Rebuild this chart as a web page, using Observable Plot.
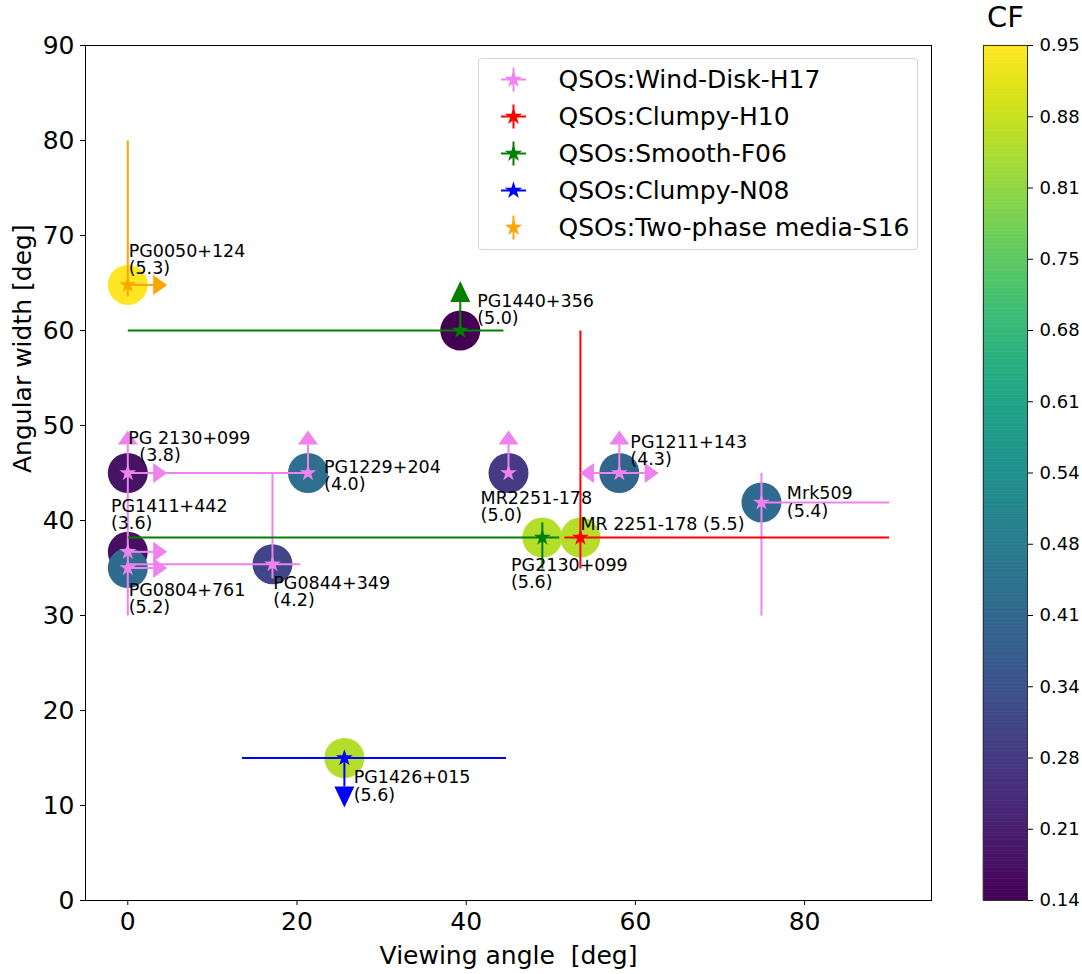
<!DOCTYPE html>
<html><head><meta charset="utf-8">
<script src="https://cdn.jsdelivr.net/npm/d3@7"></script>
<script src="https://cdn.jsdelivr.net/npm/@observablehq/plot@0.6"></script>
<style>
body{margin:0;background:#fff;}
#wrap{position:relative;width:1082px;height:974px;font-family:"DejaVu Sans",sans-serif;}
#wrap svg{position:absolute;overflow:visible;}
#wrap svg text{white-space:pre;}
</style></head><body><div id="wrap"></div>
<script>
// ---------------- data ----------------
const seriesNames = ["Wind-Disk-H17", "Clumpy-H10", "Smooth-F06", "Clumpy-N08", "Two-phase media-S16"];
const seriesPrefix = "QSOs:";

const objNames = ["PG0050+124", "PG1440+356", "PG2130+099", "MR 2251-178", "PG1426+015",
  "PG 2130+099", "PG1411+442", "PG0804+761", "PG0844+349", "PG1229+204", "MR2251-178", "PG1211+143", "Mrk509"];
const objSeries = ["Two-phase media-S16", "Smooth-F06", "Smooth-F06", "Clumpy-H10", "Clumpy-N08",
  "Wind-Disk-H17", "Wind-Disk-H17", "Wind-Disk-H17", "Wind-Disk-H17", "Wind-Disk-H17", "Wind-Disk-H17", "Wind-Disk-H17", "Wind-Disk-H17"];
const objLabels = ["PG0050+124\n(5.3)", "PG1440+356\n(5.0)", "PG2130+099\n(5.6)", "MR 2251-178 (5.5)", "PG1426+015\n(5.6)",
  "PG 2130+099\n  (3.8)", "PG1411+442\n(3.6)", "PG0804+761\n(5.2)", "PG0844+349\n(4.2)", "PG1229+204\n(4.0)", "MR2251-178\n(5.0)", "PG1211+143\n(4.3)", "Mrk509\n(5.4)"];
const viewAngle = [0, 39.3, 49.0, 53.5, 25.6, 0, 0, 0, 17.1, 21.3, 45.0, 58.1, 74.9];
const angWidth = [64.8, 60, 38.2, 38.2, 15.0, 45, 36.7, 35.0, 35.4, 45, 45, 45, 41.9];
const coveringFactor = [0.95, 0.14, 0.86, 0.86, 0.86, 0.18, 0.17, 0.42, 0.31, 0.43, 0.28, 0.40, 0.42];
const xErrLo = [0, 39.3, 49.0, 1.9, 12.1, 0, 0, 0, 17.1, 21.3, 0, 0, 0];
const xErrHi = [0, 5.1, 2.0, 36.5, 19.1, 0, 0, 0, 3.3, 0, 0, 0, 15.1];
const yErrLo = [1.2, 0, 3.25, 3.25, 0, 0, 0, 5.0, 1.5, 0, 0, 0, 11.9];
const yErrHi = [15.2, 0, 1.6, 21.8, 0, 0, 0, 10.0, 9.6, 0, 0, 0, 3.1];
const limUp    = [0, 1, 0, 0, 0, 1, 0, 0, 0, 1, 1, 1, 0];
const limDown  = [0, 0, 0, 0, 1, 0, 0, 0, 0, 0, 0, 0, 0];
const limLeft  = [0, 0, 0, 0, 0, 0, 0, 0, 0, 0, 0, 1, 0];
const limRight = [1, 0, 0, 0, 0, 1, 1, 1, 0, 0, 0, 1, 0];
const limitArrowLength = 3;
const labelX = [0.1, 41.3, 45.3, 53.5, 26.7, 0.05, -2.0, 0.1, 17.2, 23.2, 41.7, 59.4, 77.9];
const labelY = [69.05, 63.8, 36.0, 40.3, 13.6, 49.3, 42.2, 33.3, 34.05, 46.25, 43.05, 48.9, 43.5];

const cfDomain = [0.14, 0.95];
const cfTickLabels = ["0.14", "0.21", "0.28", "0.34", "0.41", "0.48", "0.54", "0.61", "0.68", "0.75", "0.81", "0.88", "0.95"];
const xTicks = [0, 20, 40, 60, 80];
const yTicks = [0, 10, 20, 30, 40, 50, 60, 70, 80, 90];
const xDomain = [-5, 95];
const yDomain = [0, 90];
const xLabel = "Viewing angle  [deg]";
const yLabel = "Angular width [deg]";
const cfTitle = "CF";

// ---------------- styles ----------------
const seriesColors = {"Wind-Disk-H17": "violet", "Clumpy-H10": "red", "Smooth-F06": "green", "Clumpy-N08": "blue", "Two-phase media-S16": "orange"};
const seriesArrow = {"Wind-Disk-H17": "caret", "Clumpy-H10": "caret", "Smooth-F06": "tri", "Clumpy-N08": "tri", "Two-phase media-S16": "caret"};
const FONT = "DejaVu Sans";

const caret = {draw(ctx, size) { const r = Math.sqrt(size / Math.PI); ctx.moveTo(-r, 0); ctx.lineTo(r, 0); ctx.lineTo(0, -1.4 * r); ctx.closePath(); }};
const tri = {draw(ctx, size) { const r = Math.sqrt(size / Math.PI); ctx.moveTo(-r, 0); ctx.lineTo(r, 0); ctx.lineTo(0, -2.1 * r); ctx.closePath(); }};
const hline = {draw(ctx, size) { const r = Math.sqrt(size / Math.PI); ctx.moveTo(-r, 0); ctx.lineTo(r, 0); }};
const vline = {draw(ctx, size) { const r = Math.sqrt(size / Math.PI); ctx.moveTo(0, -r); ctx.lineTo(0, r); }};

// ---------------- build tables ----------------
const objs = objNames.map((name, i) => ({name, series: objSeries[i], x: viewAngle[i], y: angWidth[i], cf: coveringFactor[i], label: objLabels[i], lx: labelX[i], ly: labelY[i]}));
const segs = [], arrows = [];
objs.forEach((o, i) => {
  const s = o.series, L = limitArrowLength;
  if (xErrLo[i] || xErrHi[i]) segs.push({series: s, x1: o.x - xErrLo[i], x2: o.x + xErrHi[i], y1: o.y, y2: o.y});
  if (yErrLo[i] || yErrHi[i]) segs.push({series: s, x1: o.x, x2: o.x, y1: o.y - yErrLo[i], y2: o.y + yErrHi[i]});
  if (limUp[i])    { segs.push({series: s, x1: o.x, x2: o.x, y1: o.y, y2: o.y + L}); arrows.push({series: s, x: o.x, y: o.y + L, rot: 0}); }
  if (limDown[i])  { segs.push({series: s, x1: o.x, x2: o.x, y1: o.y, y2: o.y - L}); arrows.push({series: s, x: o.x, y: o.y - L, rot: 180}); }
  if (limRight[i]) { segs.push({series: s, x1: o.x, x2: o.x + L, y1: o.y, y2: o.y}); arrows.push({series: s, x: o.x + L, y: o.y, rot: 90}); }
  if (limLeft[i])  { segs.push({series: s, x1: o.x, x2: o.x - L, y1: o.y, y2: o.y}); arrows.push({series: s, x: o.x - L, y: o.y, rot: 270}); }
});

const seriesMarks = seriesNames.flatMap(s => [
  Plot.link(segs.filter(d => d.series === s), {x1: "x1", y1: "y1", x2: "x2", y2: "y2", stroke: seriesColors[s], strokeWidth: 2})
]);
const arrowMarks = seriesNames.map(s =>
  Plot.dot(arrows.filter(d => d.series === s), {x: "x", y: "y", rotate: "rot", r: 10, symbol: seriesArrow[s] === "tri" ? tri : caret, fill: seriesColors[s], stroke: "none"})
);
const starMarks = seriesNames.map(s =>
  Plot.dot(objs.filter(d => d.series === s), {x: "x", y: "y", r: 5.3, symbol: "star", fill: seriesColors[s], stroke: "none"})
);

const wrap = document.getElementById("wrap");

// ---------------- main chart ----------------
const main = Plot.plot({
  width: 1082, height: 974,
  marginLeft: 85, marginRight: 151, marginTop: 45, marginBottom: 74,
  style: {fontFamily: FONT, fontSize: "25px", color: "black", background: "transparent"},
  x: {domain: xDomain},
  y: {domain: yDomain},
  color: {type: "linear", scheme: "viridis", domain: cfDomain},
  marks: [
    Plot.dot(objs, {x: "x", y: "y", r: 20, fill: "cf", stroke: "none"}),
    ...seriesMarks,
    ...arrowMarks,
    ...starMarks,
    Plot.text(objs, {x: "lx", y: "ly", text: "label", textAnchor: "start", lineAnchor: "top", fontSize: 17.5, lineHeight: 0.98, fill: "black"}),
    Plot.frame({stroke: "black", strokeWidth: 1}),
    Plot.axisX({ticks: xTicks, tickSize: 5, tickPadding: 7, label: null, fontSize: 25}),
    Plot.axisY({ticks: yTicks, tickSize: 5, tickPadding: 6, label: null, fontSize: 25}),
    Plot.text([xLabel], {frameAnchor: "bottom", dy: 55, text: d => d, lineAnchor: "middle", fontSize: 25}),
    Plot.text([yLabel], {frameAnchor: "left", dx: -63, rotate: -90, text: d => d, lineAnchor: "middle", fontSize: 25})
  ]
});
main.style.left = "0px"; main.style.top = "0px";
wrap.appendChild(main);

// ---------------- colorbar ----------------
const cbN = 240;
const cbSpan = cfDomain[1] - cfDomain[0];
const cbSlices = d3.range(cbN).map(k => ({y1: cfDomain[0] + cbSpan * k / cbN, y2: cfDomain[0] + cbSpan * (k + 1) / cbN, v: cfDomain[0] + cbSpan * (k + 0.5) / cbN}));
const cbStep = cbSpan / (cfTickLabels.length - 1);
const cbTicks = cfTickLabels.map((_, k) => cfDomain[0] + cbStep * k);
const cb = Plot.plot({
  width: 122, height: 974,
  marginLeft: 23, marginRight: 55, marginTop: 45, marginBottom: 74,
  style: {fontFamily: FONT, fontSize: "18px", color: "black", background: "transparent"},
  x: {domain: [0, 1], axis: null},
  y: {domain: cfDomain},
  color: {type: "linear", scheme: "viridis", domain: cfDomain},
  marks: [
    Plot.rect(cbSlices, {x1: () => 0, x2: () => 1, y1: "y1", y2: "y2", fill: "v", stroke: "v", strokeWidth: 0.6}),
    Plot.frame({stroke: "#333", strokeWidth: 1}),
    Plot.axisY({anchor: "right", ticks: cbTicks, tickFormat: d => cfTickLabels[Math.round((d - cfDomain[0]) / cbStep)], tickSize: 5, tickPadding: 7, label: null, fontSize: 18}),
    Plot.text([cfTitle], {frameAnchor: "top", dy: -28, text: d => d, lineAnchor: "middle", fontSize: 29})
  ]
});
cb.style.left = "960px"; cb.style.top = "0px";
wrap.appendChild(cb);

// ---------------- legend ----------------
const legendRows = seriesNames.map(s => ({
  series: s, label: seriesPrefix + s,
  hasX: objs.some((o, i) => o.series === s && (xErrLo[i] || xErrHi[i])),
  hasY: objs.some((o, i) => o.series === s && (yErrLo[i] || yErrHi[i]))
}));
const legMarks = [];
legendRows.forEach(row => {
  const c = seriesColors[row.series];
  if (row.hasX) legMarks.push(Plot.dot([row], {x: () => 0, y: "series", r: 12.5, symbol: hline, stroke: c, strokeWidth: 2, fill: "none"}));
  if (row.hasY) legMarks.push(Plot.dot([row], {x: () => 0, y: "series", r: 12, symbol: vline, stroke: c, strokeWidth: 2, fill: "none"}));
  legMarks.push(Plot.dot([row], {x: () => 0, y: "series", r: 5.5, symbol: "star", fill: c, stroke: "none"}));
});
const leg = Plot.plot({
  width: 438, height: 190, margin: 0,
  style: {fontFamily: FONT, fontSize: "25px", color: "black", background: "white", border: "1px solid #d5d5d5", borderRadius: "4px"},
  x: {domain: [0, 1], range: [34, 79], axis: null},
  y: {type: "point", domain: seriesNames, range: [20, 168], padding: 0, axis: null},
  marks: [
    ...legMarks,
    Plot.text(legendRows, {x: () => 1, y: "series", text: "label", textAnchor: "start", lineAnchor: "middle", fontSize: 25})
  ]
});
leg.style.left = "478px"; leg.style.top = "58px";
wrap.appendChild(leg);
</script></body></html>
